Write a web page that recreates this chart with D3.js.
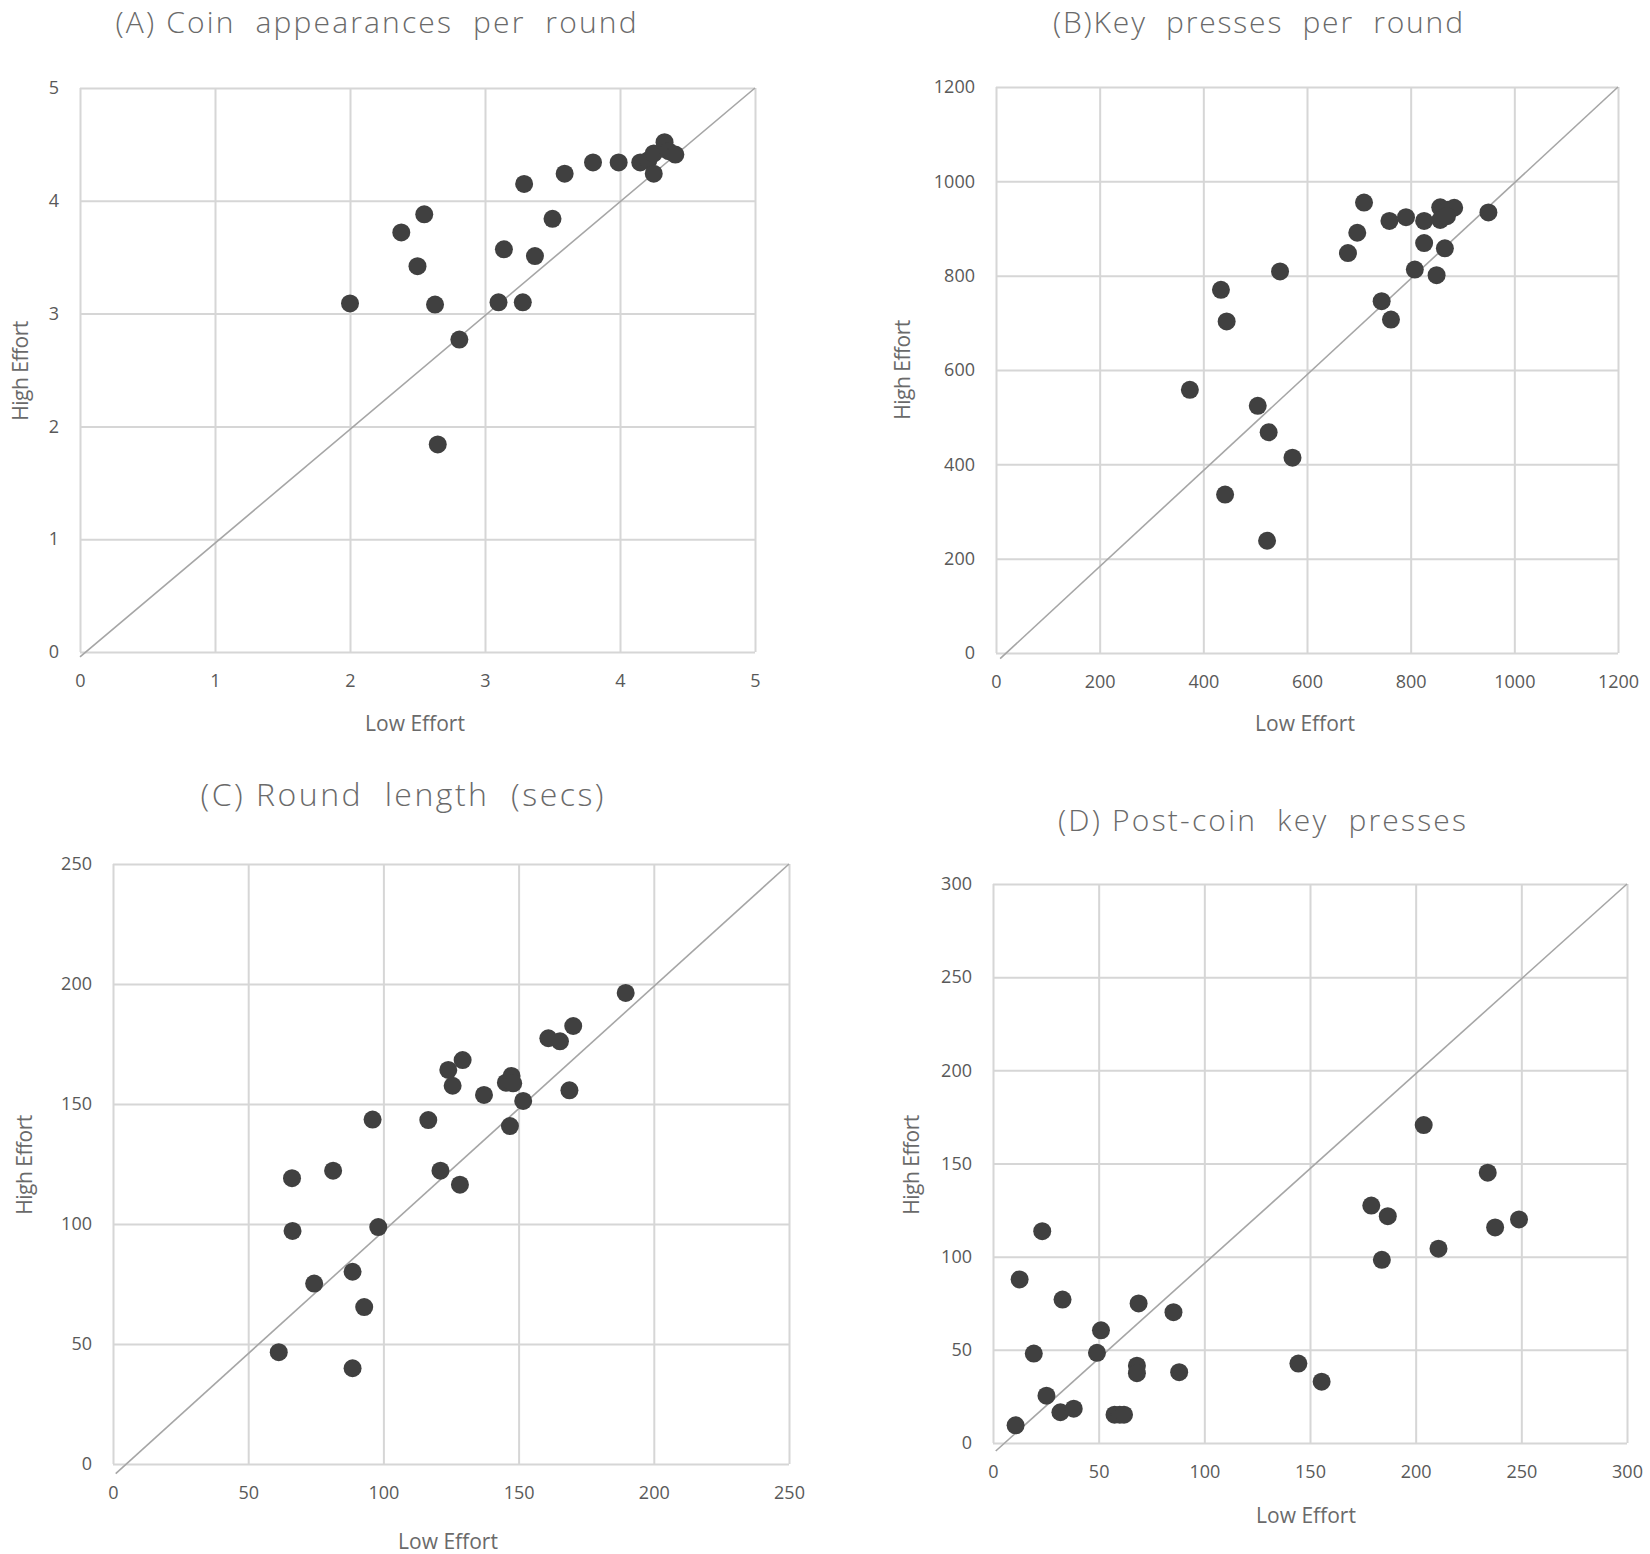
<!DOCTYPE html>
<html>
<head>
<meta charset="utf-8">
<script src="https://cdn.jsdelivr.net/npm/d3@7"></script>
<style>
  body { margin: 0; background: #fff; }
  text { font-family: "Open Sans", "Noto Sans", sans-serif; fill: #595959; }
</style>
</head>
<body>
<div id="chart"></div>
<script>
// ---- data ----
const ticksA = [0, 1, 2, 3, 4, 5];
const lowA  = [2.00, 2.38, 2.55, 2.50, 2.63, 2.81, 2.65, 3.10, 3.28, 3.14, 3.37, 3.29, 3.50, 3.59, 3.80, 3.99, 4.15, 4.21, 4.25, 4.25, 4.33, 4.36, 4.41];
const highA = [3.09, 3.72, 3.88, 3.42, 3.08, 2.77, 1.84, 3.10, 3.10, 3.57, 3.51, 4.15, 3.84, 4.24, 4.34, 4.34, 4.34, 4.36, 4.42, 4.24, 4.52, 4.44, 4.41];
const diagA = [[0, -0.044], [5, 5]];

const ticksB = [0, 200, 400, 600, 800, 1000, 1200];
const lowB  = [374, 434, 445, 442, 505, 526, 572, 523, 548, 679, 697, 710, 744, 762, 759, 791, 826, 826, 808, 850, 866, 857, 872, 884, 857, 870, 950];
const highB = [558, 770, 703, 336, 524, 468, 414, 238, 809, 848, 891, 955, 746, 707, 916, 924, 916, 869, 813, 801, 858, 945, 940, 944, 918, 926, 934];
const diagB = [[8, -12], [1200, 1200]];

const ticksC = [0, 50, 100, 150, 200, 250];
const lowC  = [61.3, 88.6, 66.2, 66.4, 74.4, 88.6, 92.9, 98.1, 81.4, 96.0, 116.6, 121.1, 128.3, 124.0, 125.6, 129.3, 137.2, 145.3, 147.4, 148.0, 146.8, 151.7, 161.0, 165.3, 170.2, 168.8, 189.6];
const highC = [46.6, 39.9, 119.1, 97.1, 75.2, 80.1, 65.4, 98.7, 122.2, 143.5, 143.3, 122.2, 116.4, 164.2, 157.6, 168.3, 153.8, 158.9, 161.7, 158.6, 140.8, 151.3, 177.4, 176.1, 182.5, 155.7, 196.3];
const diagC = [[1, -4], [250, 250]];

const ticksD = [0, 50, 100, 150, 200, 250, 300];
const lowD  = [10.7, 12.6, 19.3, 23.3, 25.3, 31.9, 38.2, 32.9, 49.2, 51.1, 57.5, 60.0, 62.0, 68.1, 68.1, 68.9, 85.4, 88.1, 144.5, 155.5, 179.0, 186.8, 184.0, 203.8, 210.8, 234.1, 237.6, 248.9];
const highD = [9.5, 87.8, 48.0, 113.7, 25.4, 16.5, 18.4, 77.0, 48.4, 60.5, 15.2, 15.2, 15.2, 41.5, 37.5, 74.9, 70.2, 38.0, 42.6, 32.9, 127.4, 121.7, 98.3, 170.6, 104.3, 145.1, 115.7, 120.0];
const diagD = [[1.3, -4.3], [300, 300]];

const titles = ["(A) Coin  appearances  per  round", "(B)Key  presses  per  round", "(C) Round  length  (secs)", "(D) Post-coin  key  presses"];
const xTitle = "Low Effort";
const yTitle = "High Effort";

// ---- layout ----
const panels = [
    {low: lowA, high: highA, ticks: ticksA, diag: diagA, title: titles[0],
     box: {l: 80, r: 755, t: 88, b: 652}, tx: 376, ty: 22, tw: 521, ts: 30, xl: [415, 723], yl: [20, 371]},
    {low: lowB, high: highB, ticks: ticksB, diag: diagB, title: titles[1],
     box: {l: 996, r: 1618, t: 87, b: 653}, tx: 1258, ty: 22, tw: 410, ts: 30, xl: [1305, 723], yl: [902, 370]},
    {low: lowC, high: highC, ticks: ticksC, diag: diagC, title: titles[2],
     box: {l: 113, r: 789, t: 864, b: 1464}, tx: 402, ty: 794, tw: 403, ts: 32, xl: [448, 1541], yl: [24, 1165]},
    {low: lowD, high: highD, ticks: ticksD, diag: diagD, title: titles[3],
     box: {l: 993, r: 1627, t: 884, b: 1443}, tx: 1262, ty: 820, tw: 408, ts: 30, xl: [1306, 1515], yl: [911, 1165]}
];

const svg = d3.select("#chart")
    .append("svg")
    .attr("width", 1650)
    .attr("height", 1554);

panels.forEach(function(p) {
    const g = svg.append("g");
    const maxV = d3.max(p.ticks);

    const x = d3.scaleLinear().domain([0, maxV]).range([p.box.l, p.box.r]);
    const y = d3.scaleLinear().domain([0, maxV]).range([p.box.b, p.box.t]);

    // grid
    g.append("g")
        .attr("transform", `translate(0,${p.box.b})`)
        .call(d3.axisBottom(x).tickValues(p.ticks).tickSize(-(p.box.b - p.box.t)).tickFormat(""))
        .call(a => a.select(".domain").remove())
        .selectAll("line").attr("stroke", "#d6d6d6").attr("stroke-width", 2);
    g.append("g")
        .attr("transform", `translate(${p.box.l},0)`)
        .call(d3.axisLeft(y).tickValues(p.ticks).tickSize(-(p.box.r - p.box.l)).tickFormat(""))
        .call(a => a.select(".domain").remove())
        .selectAll("line").attr("stroke", "#d6d6d6").attr("stroke-width", 2);

    // tick labels
    g.append("g")
        .attr("transform", `translate(0,${p.box.b})`)
        .call(d3.axisBottom(x).tickValues(p.ticks).tickSize(0).tickPadding(22).tickFormat(d3.format("d")))
        .call(a => a.select(".domain").remove())
        .selectAll("text")
        .style("font-size", "18px")
        .style("font-family", "'Open Sans', sans-serif")
        .attr("fill", "#6a6a6a");
    g.append("g")
        .attr("transform", `translate(${p.box.l},0)`)
        .call(d3.axisLeft(y).tickValues(p.ticks).tickSize(0).tickPadding(21).tickFormat(d3.format("d")))
        .call(a => a.select(".domain").remove())
        .selectAll("text")
        .style("font-size", "18px")
        .style("font-family", "'Open Sans', sans-serif")
        .attr("fill", "#6a6a6a");

    // y = x reference line
    g.append("line")
        .attr("x1", x(p.diag[0][0]))
        .attr("y1", y(p.diag[0][1]))
        .attr("x2", x(p.diag[1][0]))
        .attr("y2", y(p.diag[1][1]))
        .attr("stroke", "#a6a6a6")
        .attr("stroke-width", 1.6);

    // points
    g.selectAll(".dot")
        .data(d3.zip(p.low, p.high))
        .enter()
        .append("circle")
        .attr("class", "dot")
        .attr("cx", d => x(d[0]))
        .attr("cy", d => y(d[1]))
        .attr("r", 9)
        .attr("fill", "#404040");

    // titles
    g.append("text")
        .attr("x", p.tx)
        .attr("y", p.ty + p.ts * 0.36)
        .attr("text-anchor", "middle")
        .attr("font-size", p.ts + "px")
        .attr("textLength", p.tw)
        .attr("lengthAdjust", "spacing")
        .attr("font-weight", 300)
        .style("fill", "#6a6a6a")
        .style("white-space", "pre")
        .text(p.title);

    g.append("text")
        .attr("x", p.xl[0])
        .attr("y", p.xl[1] + 7.5)
        .attr("text-anchor", "middle")
        .attr("font-size", "21px")
        .style("fill", "#6a6a6a")
        .text(xTitle);

    g.append("text")
        .attr("transform", `translate(${p.yl[0] + 7.5},${p.yl[1]}) rotate(-90)`)
        .attr("text-anchor", "middle")
        .attr("font-size", "21px")
        .attr("letter-spacing", "-0.5px")
        .style("fill", "#6a6a6a")
        .text(yTitle);
});
</script>
</body>
</html>
